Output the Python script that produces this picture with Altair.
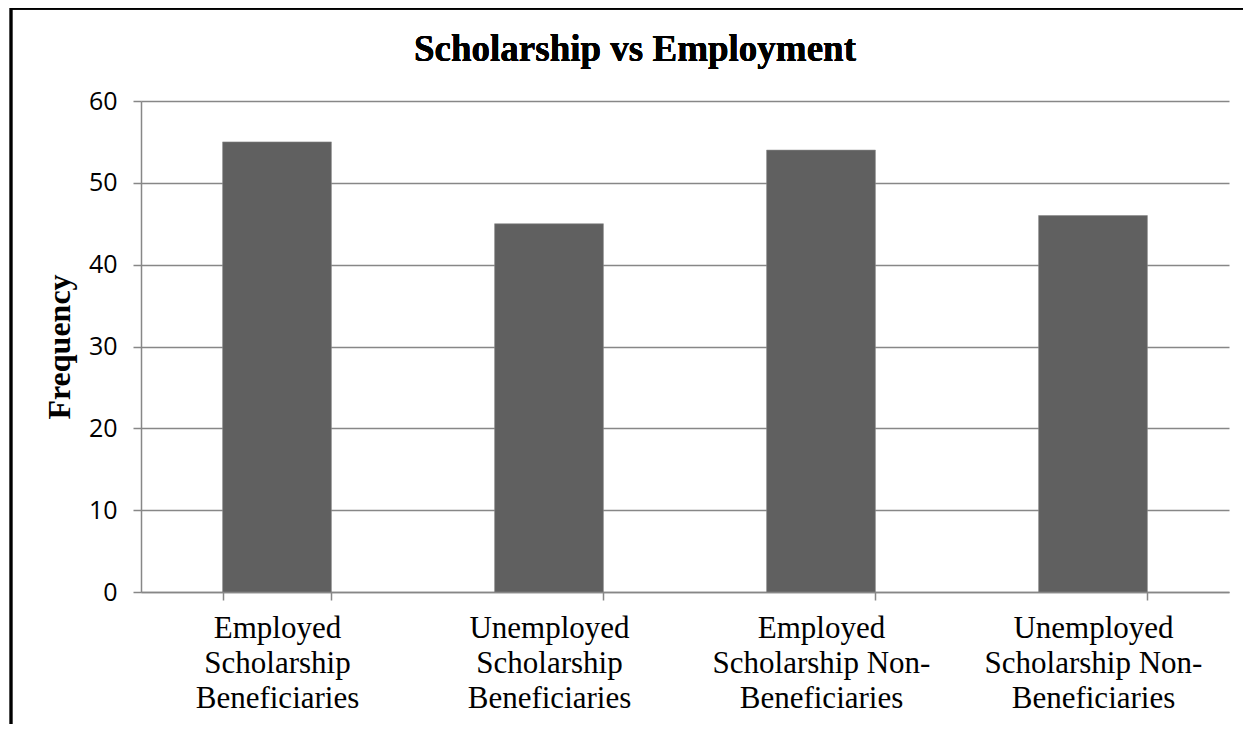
import altair as alt
import pandas as pd

categories = [
    "Employed Scholarship Beneficiaries",
    "Unemployed Scholarship Beneficiaries",
    "Employed Scholarship Non-Beneficiaries",
    "Unemployed Scholarship Non-Beneficiaries",
]
label_lines = [
    ["Employed", "Scholarship", "Beneficiaries"],
    ["Unemployed", "Scholarship", "Beneficiaries"],
    ["Employed", "Scholarship Non-", "Beneficiaries"],
    ["Unemployed", "Scholarship Non-", "Beneficiaries"],
]
frequency = [55, 45, 54, 46]
chart_title = "Scholarship vs Employment"

df = pd.DataFrame({"cat": categories, "freq": frequency})

label_expr = "{" + ", ".join(
    f"'{c}': {lines}" for c, lines in zip(categories, label_lines)
) + "}[datum.label]"

GRID = "#878787"

bars = alt.Chart(df).mark_bar(color="#606060", stroke="#8a8a8a", strokeWidth=0.6).encode(
    x=alt.X(
        "cat:N",
        sort=categories,
        title=None,
        scale=alt.Scale(paddingInner=0.6, paddingOuter=0.3),
        axis=alt.Axis(
            labelExpr=label_expr,
            labelAngle=0,
            labelFont="Liberation Serif",
            labelFontSize=31,
            labelColor="#000000",
            labelLineHeight=35,
            labelPadding=13,
            labelBaseline="top",
            labelLimit=400,
            tickBand="extent",
            tickSize=8,
            tickColor=GRID,
            tickWidth=1.5,
            domainColor=GRID,
            domainWidth=1.5,
            grid=False,
        ),
    ),
    y=alt.Y(
        "freq:Q",
        title="Frequency",
        scale=alt.Scale(domain=[0, 60], nice=False),
        axis=alt.Axis(
            values=[0, 10, 20, 30, 40, 50, 60],
            labelFont="Open Sans",
            labelFontSize=25,
            labelColor="#000000",
            labelPadding=16,
            tickSize=8,
            tickColor=GRID,
            tickWidth=1.5,
            domainColor=GRID,
            domainWidth=1.5,
            gridColor=GRID,
            gridWidth=1.5,
            titleFont="Liberation Serif",
            titleFontSize=32,
            titleFontWeight="bold",
            titleColor="#000000",
            titlePadding=12,
        ),
    ),
)

title_text = alt.Chart(df).mark_text(
    font="Liberation Serif", fontSize=37, fontWeight="bold", color="#000000",
    align="center", baseline="alphabetic", clip=False,
).encode(x=alt.value(494), y=alt.value(-40), text=alt.value(chart_title))

frame_top = alt.Chart(df).mark_rule(color="#000000", strokeWidth=3, clip=False).encode(
    x=alt.value(-130), x2=alt.value(1200), y=alt.value(-93)
)
frame_left = alt.Chart(df).mark_rule(color="#000000", strokeWidth=2.5, clip=False).encode(
    x=alt.value(-130), y=alt.value(-93), y2=alt.value(700)
)

chart = alt.layer(bars, title_text, frame_top, frame_left).properties(
    width=1088,
    height=491,
    autosize=alt.AutoSizeParams(type="none"),
    padding={"left": 133, "top": 93, "right": 14, "bottom": 132},
).configure_view(stroke=None)

chart.save("out.html", embed_options={"renderer": "svg", "actions": False})
